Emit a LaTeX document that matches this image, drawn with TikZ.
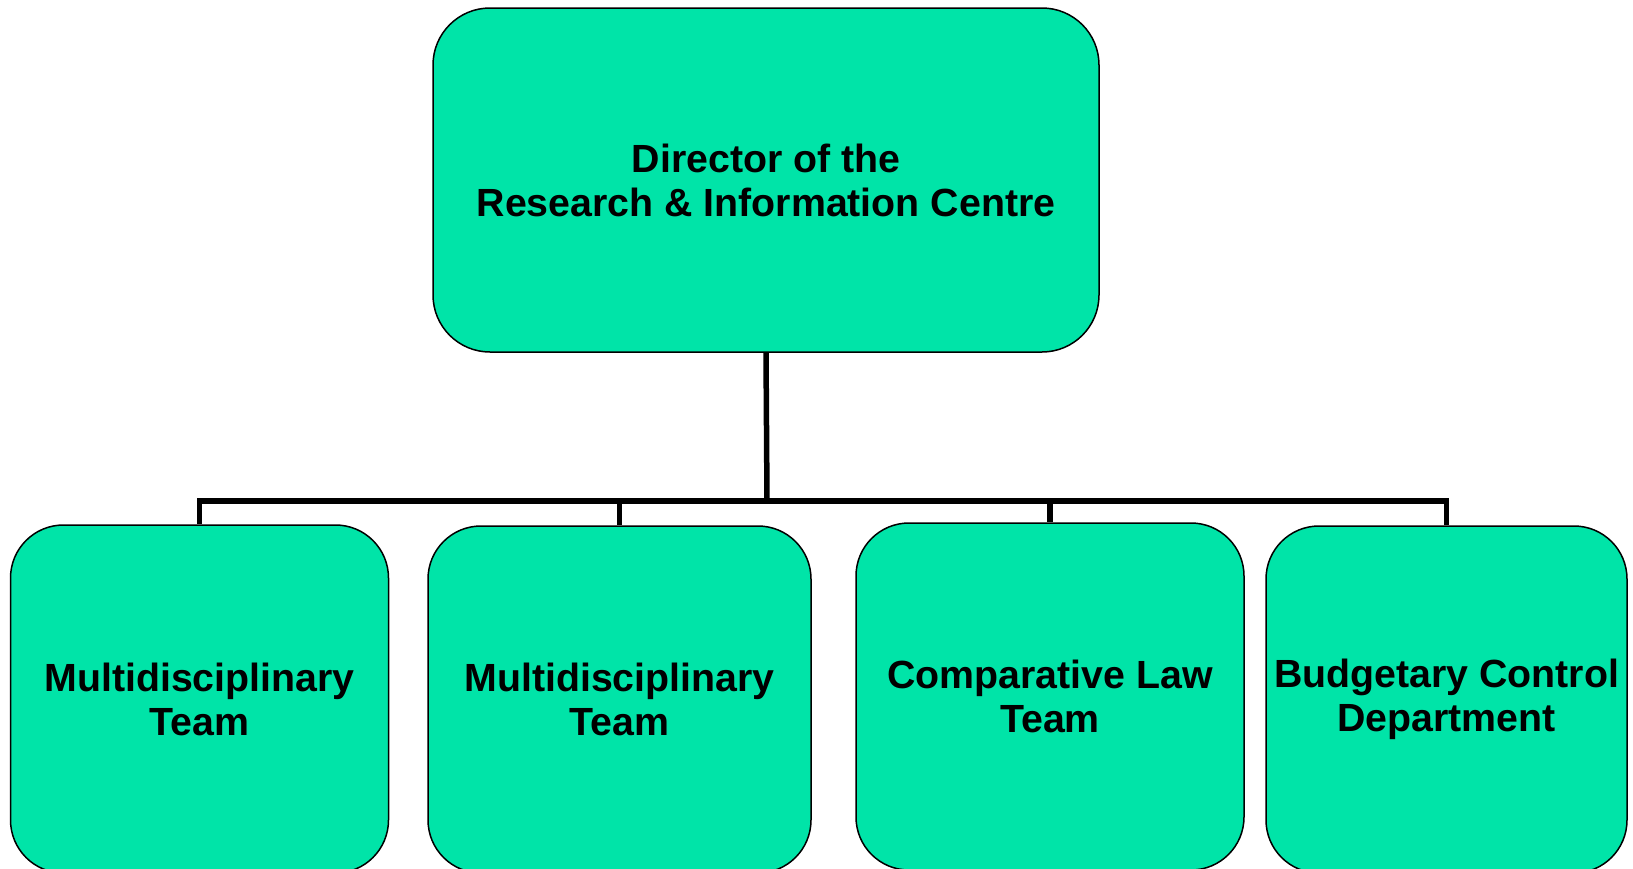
\documentclass[tikz,border=0pt]{standalone}
\usepackage{fontspec}
\setmainfont{Liberation Sans}
\usepackage{tikz}
\definecolor{teamgreen}{RGB}{0,228,168}

\begin{document}
\begin{tikzpicture}[x=1pt,y=-1pt,
   unit/.style={rectangle,rounded corners=53pt,draw=black,line width=1.5pt,fill=teamgreen,
     inner sep=0pt,align=center,font=\fontsize{39.3}{44}\selectfont\bfseries},
   link/.style={line width=5.5pt,draw=black}]
   \useasboundingbox (0,0) rectangle (1633,868);
   \node (director) at (766,180) [unit,rounded corners=57pt,minimum width=666pt,minimum height=344pt]
      {Director of the\\Research \& Information Centre};
   \node (mdt1) at (199.5,699) [unit,minimum width=378pt,minimum height=348pt] {Multidisciplinary\\Team};
   \node (mdt2) at (619.5,699.5) [unit,minimum width=383pt,minimum height=347pt] {Multidisciplinary\\Team};
   \node (clt) at (1050,696.5) [unit,minimum width=388pt,minimum height=347pt] {Comparative Law\\Team};
   \node (bcd) at (1446.5,699.5) [unit,minimum width=361pt,minimum height=347pt] {Budgetary Control\\Department};
   \coordinate (bar) at (767,501);
   \draw[link] (director.south) -- (bar);
   \foreach \team in {mdt1,mdt2,clt,bcd}
      \draw[link] (bar) -| (\team.north);
\end{tikzpicture}
\end{document}
